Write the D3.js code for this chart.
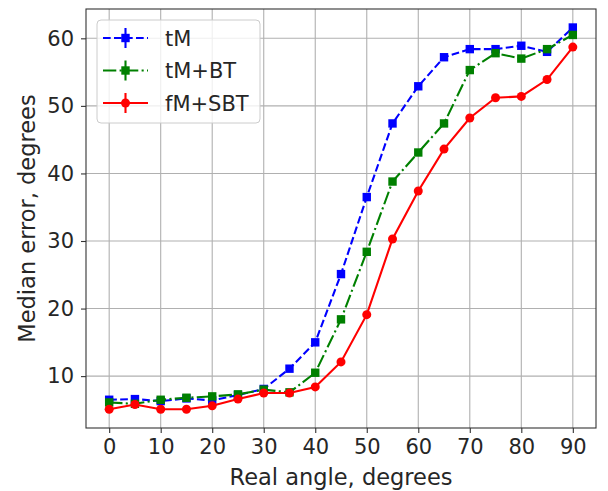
<html>
<head>
<meta charset="UTF-8">
<title>Median error vs real angle</title>
<script src="https://d3js.org/d3.v7.min.js"></script>
<style>
  body { margin: 0; background: #fff; }
  text { font-family: "DejaVu Sans", sans-serif; fill: #262626; }
</style>
</head>
<body>
<svg width="608" height="491"></svg>
<script>
// values
var angles = [0, 5, 10, 15, 20, 25, 30, 35, 40, 45, 50, 55, 60, 65, 70, 75, 80, 85, 90];
var tM     = [6.5, 6.6, 6.3, 6.7, 6.4, 7.2, 8.1, 11.1, 15.0, 25.1, 36.5, 47.4, 52.9, 57.2, 58.4, 58.4, 58.9, 58.0, 61.6];
var tMBT   = [6.1, 5.9, 6.5, 6.8, 7.0, 7.3, 8.0, 7.6, 10.5, 18.4, 28.4, 38.8, 43.1, 47.4, 55.3, 57.8, 57.0, 58.4, 60.5];
var fMSBT  = [5.1, 5.8, 5.1, 5.1, 5.6, 6.6, 7.5, 7.5, 8.4, 12.1, 19.1, 30.3, 37.4, 43.6, 48.2, 51.2, 51.4, 53.9, 58.7];
var xTicks = [0, 10, 20, 30, 40, 50, 60, 70, 80, 90];
var yTicks = [10, 20, 30, 40, 50, 60];

var series = [
  {name: "tM", values: tM, color: "#0000ff", dash: "7.7,3.3", marker: "square"},
  {name: "tM+BT", values: tMBT, color: "#008000", dash: "13.3,3.3,2.1,3.3", marker: "square"},
  {name: "fM+SBT", values: fMSBT, color: "#ff0000", dash: null, marker: "circle"}
];

var svg = d3.select("svg");
var plotL = 86, plotR = 596, plotT = 9, plotB = 428;

var x = d3.scaleLinear().domain([-4.5, 94.5]).range([plotL, plotR]);
var y = d3.scaleLinear().domain([2.32, 64.34]).range([plotB, plotT]);

// grid
var grid = svg.append("g");
grid.selectAll(".gx").data(xTicks).enter().append("line")
    .attr("x1", function(d) { return x(d); }).attr("x2", function(d) { return x(d); })
    .attr("y1", plotT).attr("y2", plotB)
    .attr("stroke", "#b0b0b0").attr("stroke-width", 1.1);
grid.selectAll(".gy").data(yTicks).enter().append("line")
    .attr("y1", function(d) { return y(d); }).attr("y2", function(d) { return y(d); })
    .attr("x1", plotL).attr("x2", plotR)
    .attr("stroke", "#b0b0b0").attr("stroke-width", 1.1);

function styleAxis(g) {
  g.select(".domain").remove();
  g.selectAll("line").attr("stroke", "#333").attr("stroke-width", 1.1);
  g.selectAll("text").attr("font-size", "21px").attr("fill", "#262626")
    .style("font-family", "DejaVu Sans");
}

// axes
svg.append("g")
    .attr("transform", "translate(0," + plotB + ")")
    .call(d3.axisBottom(x).tickValues(xTicks).tickSize(5).tickPadding(6))
    .call(styleAxis);

svg.append("g")
    .attr("transform", "translate(" + plotL + ",0)")
    .call(d3.axisLeft(y).tickValues(yTicks).tickSize(5).tickPadding(7))
    .call(styleAxis);

// series
var line = d3.line()
    .x(function(d, i) { return x(angles[i]); })
    .y(function(d) { return y(d); });

function drawMarker(g, type, cx, cy, color) {
  if (type === "square") {
    g.append("rect").attr("x", cx - 4.2).attr("y", cy - 4.2).attr("width", 8.4).attr("height", 8.4)
      .attr("fill", color);
  } else {
    g.append("circle").attr("cx", cx).attr("cy", cy).attr("r", 4.5).attr("fill", color);
  }
}

series.forEach(function(s) {
  var g = svg.append("g");
  g.append("path")
      .datum(s.values)
      .attr("d", line)
      .attr("fill", "none")
      .attr("stroke", s.color)
      .attr("stroke-width", 2.1)
      .attr("stroke-dasharray", s.dash);
  s.values.forEach(function(v, i) {
    drawMarker(g, s.marker, x(angles[i]), y(v), s.color);
  });
});

// frame
svg.append("rect")
    .attr("x", plotL).attr("y", plotT)
    .attr("width", plotR - plotL).attr("height", plotB - plotT)
    .attr("fill", "none").attr("stroke", "#333").attr("stroke-width", 1.1);

// axis labels
svg.append("text")
    .attr("x", (plotL + plotR) / 2).attr("y", 485)
    .attr("text-anchor", "middle").attr("font-size", "22.5px")
    .text("Real angle, degrees");

svg.append("text")
    .attr("transform", "translate(35," + ((plotT + plotB) / 2) + ") rotate(-90)")
    .attr("text-anchor", "middle").attr("font-size", "22.5px")
    .text("Median error, degrees");

// legend
var legend = svg.append("g");
legend.append("rect")
    .attr("x", 97).attr("y", 20).attr("width", 163).attr("height", 103).attr("rx", 4)
    .attr("fill", "#fff").attr("fill-opacity", 0.8)
    .attr("stroke", "#cccccc").attr("stroke-width", 1);

series.forEach(function(s, i) {
  var ly = 38 + i * 32.5;
  var lg = legend.append("g");
  lg.append("line")
      .attr("x1", 103).attr("x2", 148).attr("y1", ly).attr("y2", ly)
      .attr("stroke", s.color).attr("stroke-width", 2.1)
      .attr("stroke-dasharray", s.dash);
  lg.append("line")
      .attr("x1", 125.5).attr("x2", 125.5).attr("y1", ly - 10).attr("y2", ly + 10)
      .attr("stroke", s.color).attr("stroke-width", 2.1);
  drawMarker(lg, s.marker, 125.5, ly, s.color);
  lg.append("text")
      .attr("x", 165).attr("y", ly + 7.5)
      .attr("font-size", "21px")
      .text(s.name);
});
</script>
</body>
</html>
